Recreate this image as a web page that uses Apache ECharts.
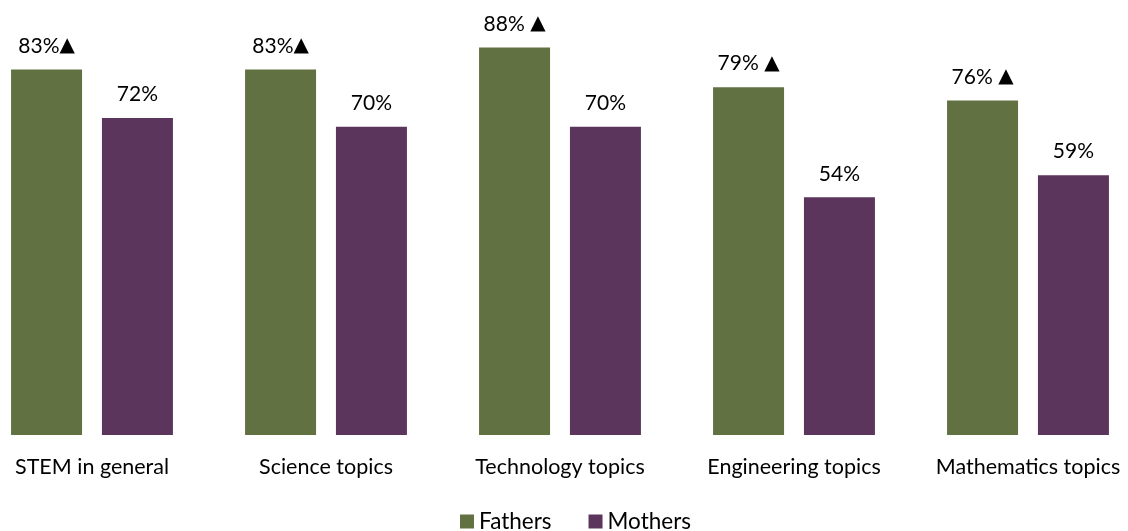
<!DOCTYPE html>
<html>
  <head>
    <meta charset="utf-8">
    <title>STEM</title>
    <script src="https://cdn.jsdelivr.net/npm/echarts@6/dist/echarts.min.js"></script>
  </head>
  <body style="margin:0">
    <div id="main" style="width: 1128px;height:531px;"></div>
    <script type="text/javascript">
      // data
      var categories = ['STEM in general', 'Science topics', 'Technology topics', 'Engineering topics', 'Mathematics topics'];
      var fathers = [83, 83, 88, 79, 76];
      var mothers = [72, 70, 70, 54, 59];
      // the fathers' labels carry the significance marker
      var fatherGaps = ['', '', ' ', ' ', ' '];

      var myChart = echarts.init(document.getElementById('main'));

      var labelFont = { fontFamily: 'Lato', fontSize: 21, color: '#000' };

      var option = {
        textStyle: { fontFamily: 'Lato' },
        animation: false,
        legend: {
          bottom: -7,
          left: 455,
          itemWidth: 14,
          itemHeight: 14,
          itemGap: 37,
          icon: 'rect',
          textStyle: { fontFamily: 'Lato', fontSize: 22.5, color: '#000' },
          data: ['Fathers', 'Mothers']
        },
        grid: { left: -25, width: 1170, top: 0, height: 435, containLabel: false, outerBoundsMode: 'none' },
        xAxis: {
          type: 'category',
          data: categories,
          axisLine: { show: false },
          axisTick: { show: false },
          axisLabel: { interval: 0, margin: 21, fontFamily: 'Lato', fontSize: 21.5, color: '#000' }
        },
        yAxis: {
          type: 'value',
          min: 0,
          max: 98.8,
          show: false,
          splitLine: { show: false }
        },
        series: [{
          name: 'Fathers',
          type: 'bar',
          data: fathers,
          barWidth: 71,
          barGap: '28%',
          itemStyle: { color: '#617141' },
          label: Object.assign({
            show: true,
            position: 'top',
            distance: 13,
            formatter: function (p) { return p.value + '%' + fatherGaps[p.dataIndex] + '{tri|▲}'; },
            rich: { tri: { fontFamily: 'DejaVu Sans', fontSize: 20, color: '#000' } }
          }, labelFont)
        }, {
          name: 'Mothers',
          type: 'bar',
          data: mothers,
          barWidth: 71,
          itemStyle: { color: '#5c355d' },
          label: Object.assign({
            show: true,
            position: 'top',
            distance: 13,
            formatter: '{c}%'
          }, labelFont)
        }]
      };

      myChart.setOption(option);
    </script>
  </body>
</html>
